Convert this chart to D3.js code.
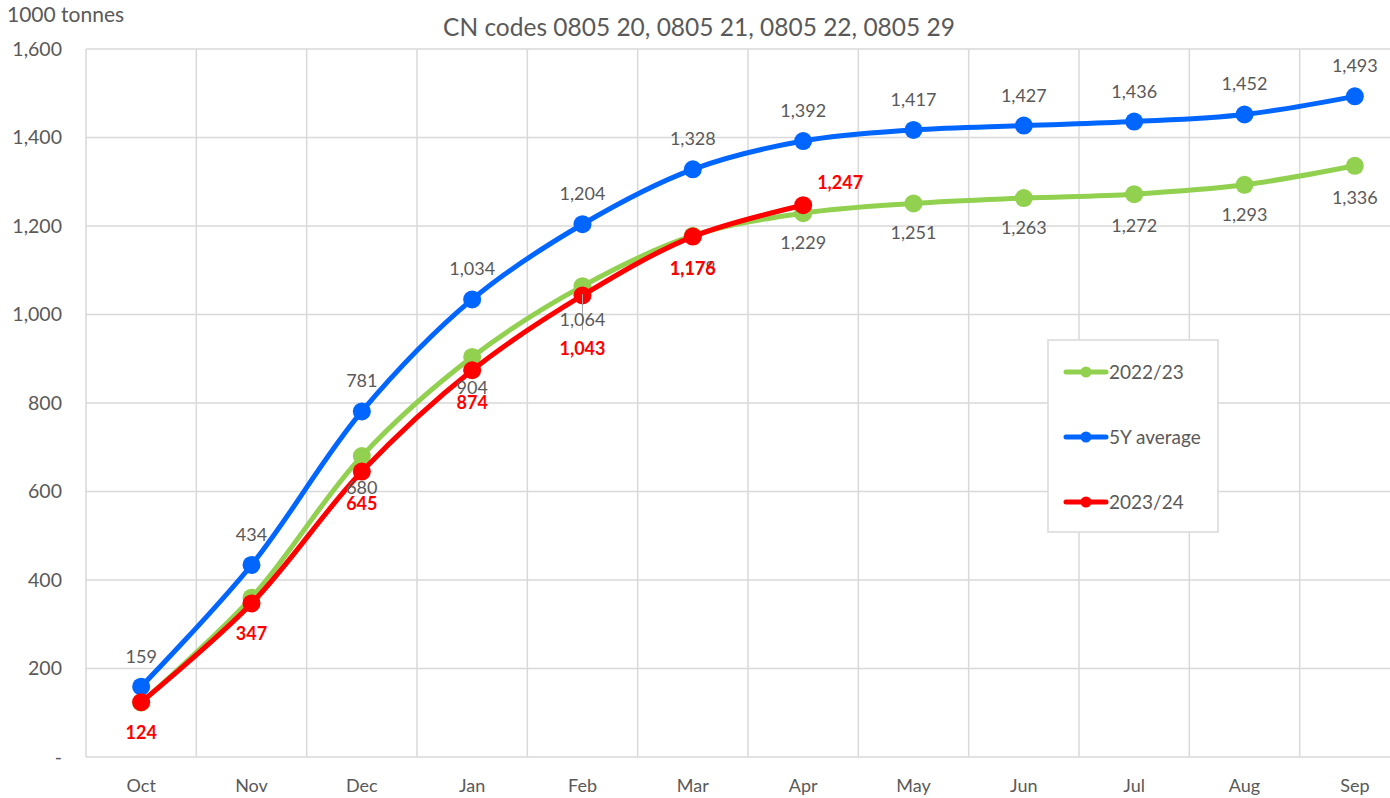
<!DOCTYPE html>
<html><head><meta charset="utf-8">
<script src="https://cdn.jsdelivr.net/npm/d3@7"></script>
<style>body{margin:0;background:#fff}svg{display:block;font-family:Lato,"Open Sans",sans-serif}</style>
</head><body>
<svg id="c" width="1390" height="798"></svg>
<script>
const months = ["Oct","Nov","Dec","Jan","Feb","Mar","Apr","May","Jun","Jul","Aug","Sep"];
const avg5y = [159,434,781,1034,1204,1328,1392,1417,1427,1436,1452,1493];
const s2223 = [123,360,680,904,1064,1178,1229,1251,1263,1272,1293,1336];
const s2324 = [124,347,645,874,1043,1176,1247];
const yTicks = [0,200,400,600,800,1000,1200,1400,1600];
const subtitle = "CN codes 0805 20, 0805 21, 0805 22, 0805 29";
const unitLabel = "1000 tonnes";

(function(){
const svg = d3.select("#c");
const pL = 86, pR = 1410, pT = 49, pB = 757;
const x = d3.scaleBand().domain(months).range([pL,pR]);
const y = d3.scaleLinear().domain([0,1600]).range([pB,pT]);
const cx = m => x(m) + x.bandwidth()/2;
const grey = "#595959", gridC = "#D9D9D9";

svg.append("g").selectAll("line").data(yTicks).join("line")
  .attr("x1",pL).attr("x2",pR).attr("y1",d=>y(d)).attr("y2",d=>y(d))
  .attr("stroke",gridC).attr("stroke-width",1.5);
svg.append("g").selectAll("line").data(months.concat(["_end"])).join("line")
  .attr("x1",(d,i)=>pL+i*x.bandwidth()).attr("x2",(d,i)=>pL+i*x.bandwidth())
  .attr("y1",pT).attr("y2",pB).attr("stroke",gridC).attr("stroke-width",1.5);

const yAxis = d3.axisLeft(y).tickValues(yTicks).tickSize(0).tickPadding(24)
  .tickFormat(d=> d===0 ? "-" : d3.format(",")(d));
const ya = svg.append("g").attr("transform",`translate(${pL},0)`).call(yAxis);
ya.select(".domain").remove();
ya.selectAll("text").attr("fill",grey).attr("font-size",19.5).style("font-family","Lato,sans-serif");

const xAxis = d3.axisBottom(x).tickSize(0).tickPadding(22);
const xa = svg.append("g").attr("transform",`translate(0,${pB})`).call(xAxis);
xa.select(".domain").remove();
xa.selectAll("text").attr("fill",grey).attr("font-size",18).style("font-family","Lato,sans-serif");

svg.append("text").attr("x",699).attr("y",36).attr("text-anchor","middle")
  .attr("fill",grey).attr("font-size",24.5).text(subtitle);
svg.append("text").attr("x",7).attr("y",22).attr("fill",grey).attr("font-size",21).text(unitLabel);

const line = d3.line().x((d,i)=>cx(months[i])).y(d=>y(d)).curve(d3.curveCatmullRom.alpha(0.5));

function series(data,color){
  const g = svg.append("g");
  g.append("path").datum(data).attr("d",line).attr("fill","none")
    .attr("stroke",color).attr("stroke-width",5).attr("stroke-linecap","round");
  g.selectAll("circle").data(data).join("circle")
    .attr("cx",(d,i)=>cx(months[i])).attr("cy",d=>y(d)).attr("r",9).attr("fill",color);
  return g;
}
const fmt = d3.format(",");
series(s2223,"#92D050");
series(avg5y,"#0066FF");
series(s2324,"#FF0000");

svg.append("line").attr("x1",cx("Feb")).attr("x2",cx("Feb")).attr("y1",y(1064)+8).attr("y2",y(1064)+44)
  .attr("stroke","#A6A6A6").attr("stroke-width",1);

const lab = svg.append("g").attr("font-size",18).attr("text-anchor","middle");
avg5y.forEach((v,i)=>{
  lab.append("text").attr("x",cx(months[i])).attr("y",y(v)-24).attr("fill",grey).text(fmt(v));
});
const greenOff = [null,null,38,37,40,38,36,36,36,38,36,38];
s2223.forEach((v,i)=>{
  if(greenOff[i]===null) return;
  lab.append("text").attr("x",cx(months[i])).attr("y",y(v)+greenOff[i]).attr("fill",grey).text(fmt(v));
});
const redPos = [[0,37],[0,37],[0,38],[0,39],[0,60],[0,38],[37,-16]];
s2324.forEach((v,i)=>{
  lab.append("text").attr("x",cx(months[i])+redPos[i][0]).attr("y",y(v)+redPos[i][1])
    .attr("fill","#FF0000").attr("font-weight","bold").text(fmt(v));
});

const leg = svg.append("g");
leg.append("rect").attr("x",1048).attr("y",340).attr("width",170).attr("height",192)
  .attr("fill","#fff").attr("stroke","#D9D9D9").attr("stroke-width",1.5);
const legItems = [["2022/23","#92D050"],["5Y average","#0066FF"],["2023/24","#FF0000"]];
legItems.forEach((d,i)=>{
  const ly = 372 + i*65;
  leg.append("line").attr("x1",1066).attr("x2",1106).attr("y1",ly).attr("y2",ly)
    .attr("stroke",d[1]).attr("stroke-width",5).attr("stroke-linecap","round");
  leg.append("circle").attr("cx",1086).attr("cy",ly).attr("r",5.5).attr("fill",d[1]);
  leg.append("text").attr("x",1109).attr("y",ly+6.5).attr("fill",grey).attr("font-size",19).text(d[0]);
});
})();
</script>
</body></html>
